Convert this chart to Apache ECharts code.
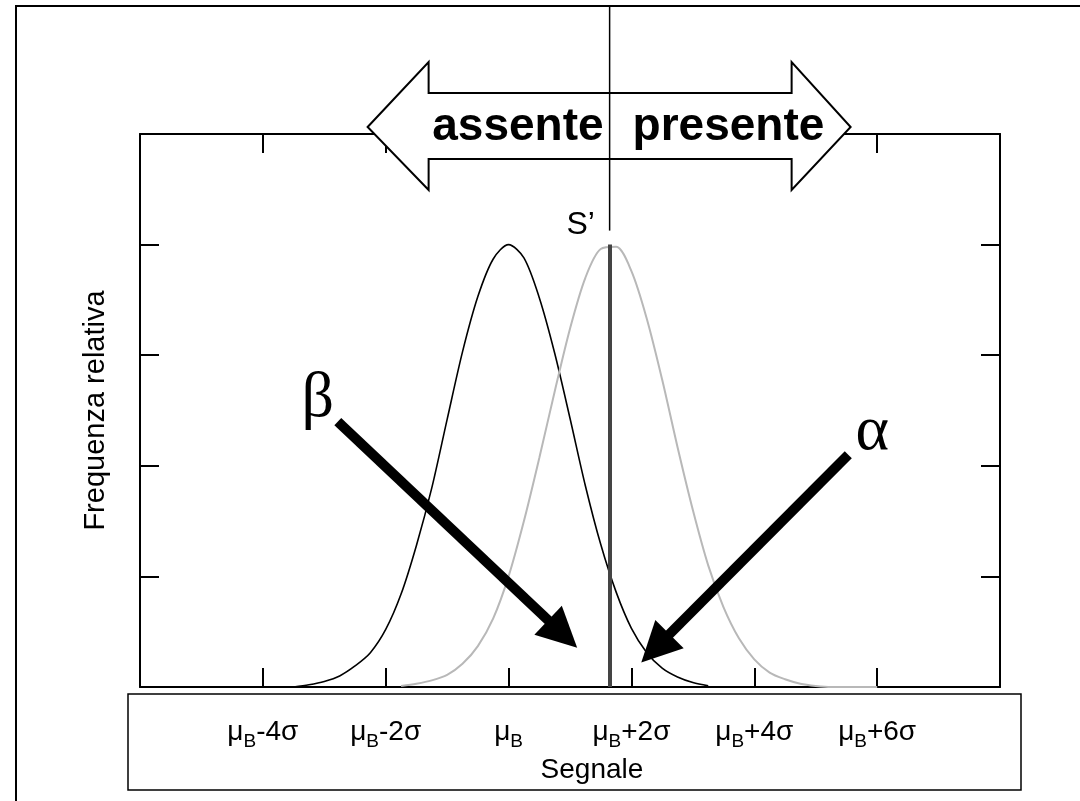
<!DOCTYPE html>
<html>
<head>
<meta charset="utf-8">
<script src="https://cdn.jsdelivr.net/npm/echarts@6/dist/echarts.min.js"></script>
<style>
html, body { margin: 0; padding: 0; background: #fff; }
#graph { width: 1080px; height: 801px; }
</style>
</head>
<body>
<div id="graph"></div>
<script>
// segnale espresso in sigma rispetto a mu_B
var sigmaSteps = [-3.5, -3.25, -3, -2.75, -2.5, -2.25, -2, -1.75, -1.5, -1.25, -1, -0.75, -0.5, -0.25,
    0, 0.25, 0.5, 0.75, 1, 1.25, 1.5, 1.75, 2, 2.25, 2.5, 2.75, 3, 3.25, 3.5, 3.75,
    4, 4.25, 4.5, 4.75, 5, 5.25, 5.5, 5.75, 6];

// analita assente (nero)
var assente = [0, 0.02, 0.05, 0.10, 0.19, 0.31, 0.52, 0.84, 1.28, 1.80, 2.42, 3.03, 3.53, 3.87,
    4.00, 3.88, 3.52, 3.02, 2.43, 1.82, 1.29, 0.86, 0.53, 0.31, 0.17, 0.09, 0.04, 0.01, null, null,
    null, null, null, null, null, null, null, null, null];

// analita presente (grigio)
var presente = [null, null, null, null, null, null, null, 0.01, 0.03, 0.06, 0.11, 0.21, 0.37, 0.62,
    1.00, 1.50, 2.07, 2.67, 3.24, 3.70, 3.96, 3.98, 3.76, 3.33, 2.78, 2.17, 1.60, 1.10, 0.72, 0.44,
    0.25, 0.13, 0.07, 0.03, 0.01, 0, 0, 0, 0];

var tickValues = [-4, -2, 0, 2, 4, 6];
var tickSuffixes = ['-4σ', '-2σ', '', '+2σ', '+4σ', '+6σ'];

var sPrime = 1.645;
var sPrimeTop = 4;
var betaArrow = [[-2.78, 2.40], [0.88, 0.48]];
var alphaArrow = [[5.53, 2.10], [2.39, 0.35]];

var FONT = 'Liberation Sans, Arial, sans-serif';

var dom = document.getElementById('graph');
var chart = echarts.init(dom);

function pairs(values) {
    return sigmaSteps.map(function (s, i) {
        return [s, values[i]];
    });
}

var axisLine = { onZero: false, lineStyle: { color: '#000', width: 2 } };
var axisTick = { inside: true, length: 19, lineStyle: { color: '#000', width: 2 } };

chart.setOption({
    animation: false,
    textStyle: { fontFamily: FONT },
    grid: { left: 140, right: 80, top: 134, bottom: 114 },
    xAxis: [
        {
            type: 'value', min: -6, max: 8, interval: 2, position: 'bottom',
            axisLine: axisLine, axisTick: axisTick, splitLine: { show: false },
            name: 'Segnale', nameLocation: 'middle', nameGap: 62,
            nameTextStyle: { fontSize: 28, color: '#000', padding: [0, 0, 0, 44] },
            axisLabel: {
                margin: 27,
                formatter: function (v) {
                    var i = tickValues.indexOf(v);
                    if (i < 0) return '';
                    return '{m|μ}{s|B}' + (tickSuffixes[i] ? '{m|' + tickSuffixes[i] + '}' : '');
                },
                rich: {
                    m: { fontSize: 28, color: '#000', fontFamily: FONT },
                    s: { fontSize: 19, color: '#000', fontFamily: FONT, padding: [18, 0, 0, 0] }
                }
            }
        },
        {
            type: 'value', min: -6, max: 8, interval: 2, position: 'top',
            axisLine: axisLine, axisTick: axisTick, splitLine: { show: false },
            axisLabel: { show: false }
        }
    ],
    yAxis: [
        {
            type: 'value', min: 0, max: 5, interval: 1, position: 'left',
            axisLine: axisLine, axisTick: axisTick, splitLine: { show: false },
            axisLabel: { show: false },
            name: 'Frequenza relativa', nameLocation: 'middle', nameGap: 30,
            nameTextStyle: { fontSize: 29, color: '#000' }
        },
        {
            type: 'value', min: 0, max: 5, interval: 1, position: 'right',
            axisLine: axisLine, axisTick: axisTick, splitLine: { show: false },
            axisLabel: { show: false }
        }
    ],
    series: [
        {
            name: 'assente', type: 'line', data: pairs(assente), smooth: 0.3,
            showSymbol: false, silent: true,
            lineStyle: { color: '#000', width: 1.6 },
            markLine: {
                silent: true, animation: false,
                symbol: ['none', 'triangle'], symbolSize: 40,
                label: { show: false },
                lineStyle: { color: '#000', width: 10, type: 'solid' },
                data: [
                    [{ coord: betaArrow[0] }, { coord: betaArrow[1] }],
                    [{ coord: alphaArrow[0] }, { coord: alphaArrow[1] }]
                ]
            }
        },
        {
            name: 'presente', type: 'line', data: pairs(presente), smooth: 0.3,
            showSymbol: false, silent: true,
            lineStyle: { color: '#b8b8b8', width: 2 },
            markLine: {
                silent: true, animation: false,
                symbol: ['none', 'none'],
                label: { show: false },
                lineStyle: { color: '#444', width: 4, type: 'solid' },
                data: [
                    [{ coord: [sPrime, 0] }, { coord: [sPrime, sPrimeTop] }]
                ]
            }
        }
    ]
});

// elementi grafici posizionati rispetto agli assi
var xs = chart.convertToPixel({ xAxisIndex: 0 }, sPrime);
var ys = chart.convertToPixel({ yAxisIndex: 0 }, sPrimeTop);
var bStart = chart.convertToPixel({ seriesIndex: 0 }, betaArrow[0]);
var aStart = chart.convertToPixel({ seriesIndex: 0 }, alphaArrow[0]);

var arrowPts = [
    [xs - 242, 127], [xs - 181, 62], [xs - 181, 93], [xs + 182, 93], [xs + 182, 62],
    [xs + 241, 127], [xs + 182, 190], [xs + 182, 159], [xs - 181, 159], [xs - 181, 190]
];

chart.setOption({
    graphic: [
        {
            type: 'rect', silent: true, z: 0,
            shape: { x: 16, y: 6, width: 1300, height: 1000 },
            style: { fill: 'none', stroke: '#000', lineWidth: 2 }
        },
        {
            type: 'rect', silent: true, z: 0,
            shape: { x: 128, y: 694, width: 893, height: 96 },
            style: { fill: 'none', stroke: '#000', lineWidth: 1.5 }
        },
        {
            type: 'polygon', silent: true, z: 10,
            shape: { points: arrowPts },
            style: { fill: '#fff', stroke: '#000', lineWidth: 2 }
        },
        {
            type: 'line', silent: true, z: 11,
            shape: { x1: xs, y1: 6, x2: xs, y2: ys - 14 },
            style: { stroke: '#000', lineWidth: 1.5 }
        },
        {
            type: 'text', silent: true, z: 12, x: xs - 6, y: 127,
            style: { text: 'assente', font: 'bold 46px ' + FONT, fill: '#000', align: 'right', verticalAlign: 'middle' }
        },
        {
            type: 'text', silent: true, z: 12, x: xs + 23, y: 127,
            style: { text: 'presente', font: 'bold 46px ' + FONT, fill: '#000', align: 'left', verticalAlign: 'middle' }
        },
        {
            type: 'text', silent: true, z: 12, x: xs - 29, y: ys - 19,
            style: { text: 'S’', font: '32px ' + FONT, fill: '#000', align: 'center', verticalAlign: 'middle' }
        },
        {
            type: 'text', silent: true, z: 12, x: bStart[0] - 20, y: bStart[1] - 22,
            style: { text: 'β', font: '64px Liberation Serif, DejaVu Serif, serif', fill: '#000', align: 'center', verticalAlign: 'middle' }
        },
        {
            type: 'text', silent: true, z: 12, x: aStart[0] + 24, y: aStart[1] - 23,
            style: { text: 'α', font: '64px Liberation Serif, DejaVu Serif, serif', fill: '#000', align: 'center', verticalAlign: 'middle' }
        }
    ]
});
</script>
</body>
</html>
